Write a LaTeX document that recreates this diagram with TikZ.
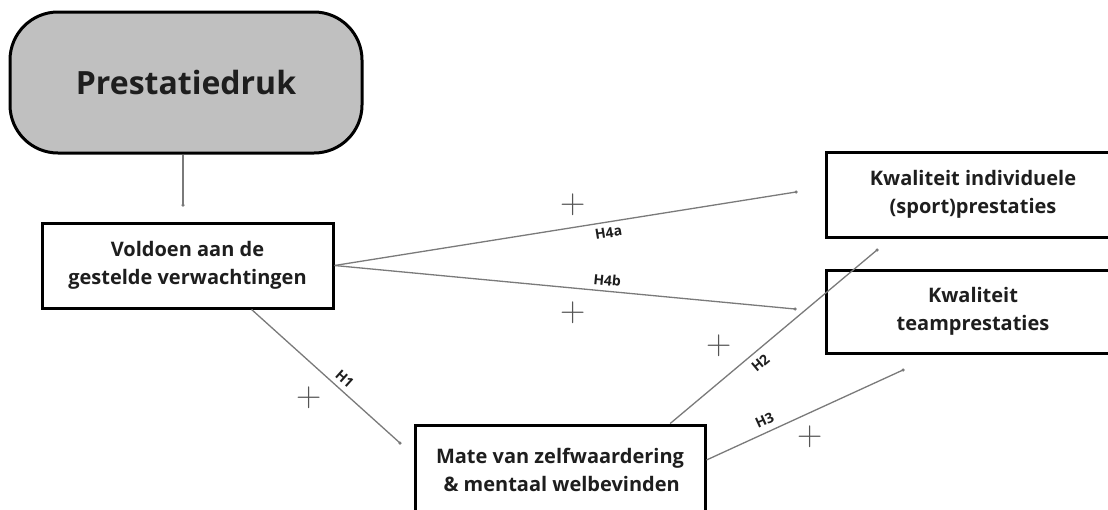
\documentclass[tikz,border=0pt]{standalone}
\usepackage{fontspec}
\usetikzlibrary{calc}
\setmainfont{Open Sans}
\newfontfamily\plusfont{Latin Modern Roman}
\definecolor{boxgray}{HTML}{C0C0C0}
\definecolor{linegray}{HTML}{7A7A7A}
\definecolor{txt}{HTML}{1E1E1E}
\definecolor{plusgray}{HTML}{555555}
\begin{document}
\begin{tikzpicture}[x=1pt,y=-1pt,
  box/.style={draw=black,line width=3pt,fill=white,text=txt,font=\fontsize{20}{27.5}\selectfont\bfseries,align=center,inner sep=0pt},
  conn/.style={draw=linegray,line width=1.3pt},
  hlabel/.style={font=\fontsize{14}{16}\selectfont\bfseries,text=txt,inner sep=1pt},
  plussign/.style={font=\plusfont\fontsize{35}{35}\selectfont,text=plusgray,inner sep=0pt},
  enddot/.style={circle,fill=linegray,inner sep=0pt,minimum size=3.5pt}]
\clip (0,0) rectangle (1108,509);
\fill[white] (0,0) rectangle (1108,509);
% nodes
\node[box,fill=boxgray,rounded corners=48pt,minimum width=352pt,minimum height=141pt,font=\fontsize{32}{38}\selectfont\bfseries] (druk) at (186,82.5) {Prestatiedruk};
\node[box,minimum width=291pt,minimum height=85pt] (voldoen) at (187.5,265.5) {Voldoen aan de\\gestelde verwachtingen};
\node[box,minimum width=294pt,minimum height=85pt] (indiv) at (973,194.5) {Kwaliteit individuele\\(sport)prestaties};
\node[box,minimum width=294pt,minimum height=83pt] (team) at (973,311.5) {Kwaliteit\\teamprestaties};
\node[box,minimum width=290pt,minimum height=90pt] (mate) at (560,470) {Mate van zelfwaardering\\\,\& mentaal welbevinden};
% free ends
\coordinate (e0) at (183,205);
\coordinate (e1) at (400,443);
\coordinate (e4a) at (796,192);
\coordinate (e4b) at (795,309);
\coordinate (e2) at (877,250);
\coordinate (e3) at (903,370);
% connectors
\draw[conn] (druk.south -| e0) -- (e0);
\draw[conn] ($(voldoen.south west)!0.718!(voldoen.south east)$) -- node[sloped,above=4pt,pos=0.58,hlabel]{H1} (e1);
\draw[conn] (voldoen.east) -- node[sloped,below=4pt,pos=0.59,hlabel]{H4a} (e4a);
\draw[conn] (voldoen.east) -- node[sloped,above=4pt,pos=0.59,hlabel]{H4b} (e4b);
\draw[conn] ($(mate.north west)!0.876!(mate.north east)$) -- node[sloped,below=5pt,pos=0.4,hlabel]{H2} (e2);
\draw[conn] ($(mate.east)+(0,-10)$) -- node[sloped,above=5pt,pos=0.32,hlabel]{H3} (e3);
\foreach \p in {e0,e1,e4a,e4b,e2,e3} \node[enddot] at (\p) {};
% plus signs
\node[plussign] (p1) at (309,398) {+};
\node[plussign] (p4a) at (573,205) {+};
\node[plussign] (p4b) at (573,313) {+};
\node[plussign] (p2) at (719,346) {+};
\node[plussign] (p3) at (810,437) {+};
\end{tikzpicture}
\end{document}
